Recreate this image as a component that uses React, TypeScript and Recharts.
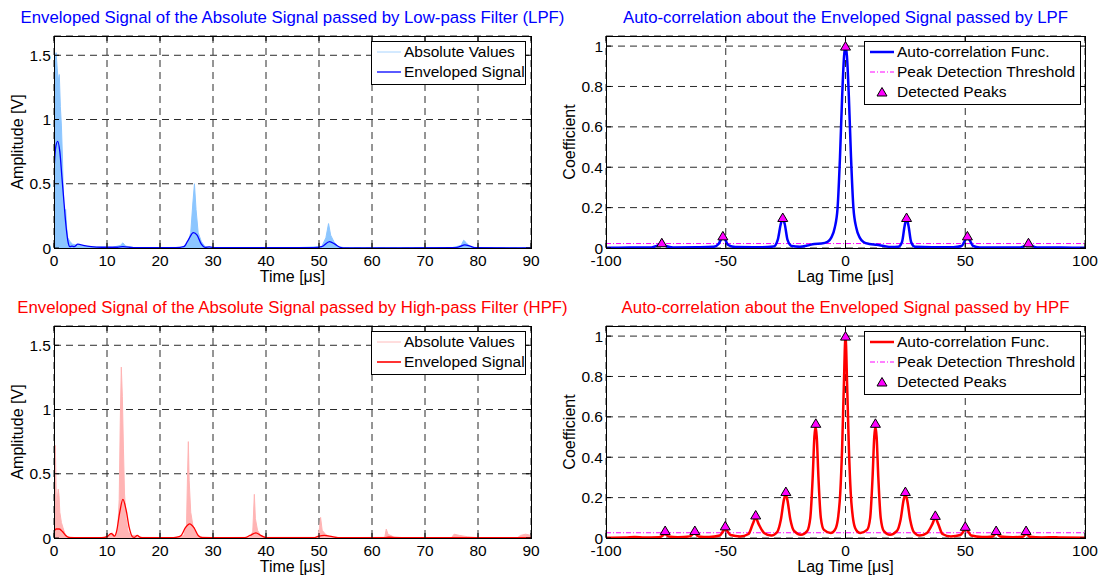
import React from "react";
import {
  ComposedChart,
  Line,
  Area,
  Scatter,
  XAxis,
  YAxis,
  CartesianGrid,
  ReferenceLine,
} from "recharts";

type Pt = [number, number];

const FONT = '"Liberation Sans", Arial, Helvetica, sans-serif';

// time axis / lag axis ticks
const TIME_TICKS = [0, 10, 20, 30, 40, 50, 60, 70, 80, 90];
const AMP_TICKS = [0, 0.5, 1, 1.5];
const LAG_TICKS = [-100, -50, 0, 50, 100];
const COEF_TICKS = [0, 0.2, 0.4, 0.6, 0.8, 1];

// LPF: absolute values (upper hull of the rectified trace) and its envelope
const LPF_ABS: Pt[] = [
  [0, 0.1], [0.2, 1.45], [0.4, 1.52], [0.6, 1.4], [0.8, 1.3], [1.0, 1.35],
  [1.2, 1.1], [1.4, 0.95], [1.6, 0.7], [1.8, 0.35], [2.0, 0.22], [2.2, 0.3],
  [2.4, 0.15], [2.6, 0.08], [3.0, 0.05], [3.5, 0.03], [4.5, 0.02], [6, 0.01],
  [8, 0.008], [11, 0.005], [12.5, 0.02], [13, 0.04], [13.5, 0.015], [15, 0.004],
  [20, 0.003], [24, 0.005], [25.2, 0.03], [25.8, 0.12], [26.2, 0.35], [26.5, 0.5],
  [26.8, 0.3], [27.2, 0.12], [27.8, 0.05], [28.5, 0.01], [30, 0.003], [45, 0.002],
  [50.5, 0.01], [51.3, 0.08], [51.8, 0.19], [52.2, 0.1], [52.8, 0.05], [53.5, 0.01],
  [55, 0.002], [75, 0.002], [76.8, 0.02], [77.3, 0.06], [77.8, 0.04], [78.5, 0.01],
  [80, 0.002], [90, 0.002],
];
const LPF_ENV: Pt[] = [
  [0, 0.6], [0.3, 0.78], [0.7, 0.83], [1.1, 0.75], [1.5, 0.55], [1.8, 0.4],
  [2.2, 0.2], [2.6, 0.06], [3.0, 0.01], [3.4, 0.015], [3.8, 0.01], [4.5, 0.03],
  [5.5, 0.02], [7, 0.01], [9, 0.006], [12, 0.006], [13, 0.01], [15, 0.003],
  [20, 0.002], [23, 0.003], [24.5, 0.01], [25.3, 0.06], [26.3, 0.12], [27, 0.1],
  [27.8, 0.03], [28.5, 0.005], [29.3, 0.008], [30.5, 0.002], [49, 0.002],
  [50.5, 0.01], [52, 0.05], [53, 0.03], [54, 0.005], [55, 0.001], [75.5, 0.002],
  [76.5, 0.01], [77.5, 0.025], [78.5, 0.015], [79.5, 0.002], [90, 0.001],
];

// HPF: absolute values and envelope
const HPF_ABS: Pt[] = [
  [0, 0.05], [0.25, 0.72], [0.35, 0.5], [0.45, 0.25], [0.6, 0.3], [0.8, 0.38],
  [0.95, 0.33], [1.1, 0.2], [1.4, 0.12], [1.7, 0.08], [2.0, 0.04], [2.5, 0.01],
  [4, 0.003], [9.5, 0.003], [10.5, 0.02], [11, 0.04], [11.5, 0.01], [12, 0.05],
  [12.3, 0.3], [12.5, 0.9], [12.7, 1.33], [12.9, 1.1], [13.1, 0.7], [13.3, 0.35],
  [13.6, 0.15], [14, 0.05], [14.5, 0.02], [15.5, 0.02], [16.5, 0.005], [23, 0.003],
  [24.5, 0.02], [25.0, 0.1], [25.2, 0.5], [25.35, 0.75], [25.5, 0.45], [25.8, 0.2],
  [26.2, 0.1], [26.8, 0.04], [27.5, 0.01], [30, 0.003], [37, 0.005], [37.5, 0.05],
  [37.8, 0.34], [38.0, 0.15], [38.4, 0.06], [39, 0.02], [40, 0.005], [49.8, 0.005],
  [50.1, 0.08], [50.3, 0.16], [50.6, 0.06], [51.2, 0.03], [52, 0.01], [54, 0.003],
  [62.4, 0.005], [62.7, 0.07], [63, 0.03], [64, 0.01], [66, 0.002], [75, 0.003],
  [75.5, 0.03], [76.5, 0.02], [78, 0.01], [80, 0.002], [87.5, 0.003], [88, 0.02],
  [89, 0.03], [90, 0.02],
];
const HPF_ENV: Pt[] = [
  [0, 0.05], [0.4, 0.07], [1.0, 0.07], [1.6, 0.05], [2.2, 0.02], [3, 0.003],
  [9, 0.002], [10, 0.01], [10.8, 0.035], [11.4, 0.015], [11.8, 0.05], [12.4, 0.2],
  [13.0, 0.3], [13.6, 0.22], [14.2, 0.08], [14.8, 0.01], [15.2, 0.005], [15.7, 0.02],
  [16.3, 0.005], [17, 0.002], [22, 0.002], [23.2, 0.006], [24, 0.02], [24.8, 0.08],
  [25.6, 0.11], [26.4, 0.08], [27.2, 0.02], [28, 0.003], [36, 0.003], [37, 0.02],
  [38.1, 0.04], [39, 0.02], [40, 0.003], [49, 0.002], [50, 0.015], [51, 0.02],
  [52.5, 0.01], [54, 0.002], [62.5, 0.002], [63.2, 0.006], [64.5, 0.002], [90, 0.002],
];

// auto-correlation functions
const LPF_ACF: Pt[] = [
  [-100, 0.001], [-90, 0.002], [-81, 0.003], [-78.5, 0.012], [-76.8, 0.02],
  [-75, 0.01], [-72, 0.003], [-62, 0.004], [-55, 0.006], [-53, 0.02], [-51.5, 0.048],
  [-50.5, 0.045], [-49, 0.015], [-46, 0.005], [-35, 0.004], [-30, 0.007],
  [-28.3, 0.04], [-27, 0.12], [-26.2, 0.145], [-25.4, 0.12], [-24.2, 0.04],
  [-22.5, 0.01], [-19, 0.006], [-16, 0.012], [-13, 0.02], [-10, 0.022], [-7.5, 0.03],
  [-6, 0.05], [-4.5, 0.1], [-3.3, 0.2], [-2.3, 0.45], [-1.4, 0.75], [-0.6, 0.95],
  [0, 1.0], [0.6, 0.95], [1.4, 0.75], [2.3, 0.45], [3.3, 0.2], [4.5, 0.1], [6, 0.05],
  [7.5, 0.03], [10, 0.02], [13, 0.016], [16, 0.01], [19, 0.005], [22, 0.006],
  [23.6, 0.03], [24.7, 0.11], [25.5, 0.145], [26.3, 0.11], [27.4, 0.03], [29, 0.006],
  [36, 0.004], [45, 0.004], [48.5, 0.01], [50, 0.04], [50.9, 0.05], [51.8, 0.04],
  [53.3, 0.01], [56, 0.003], [65, 0.003], [73, 0.003], [75, 0.01], [76.4, 0.02],
  [78, 0.01], [80, 0.003], [90, 0.002], [100, 0.001],
];
const HPF_ACF: Pt[] = [
  [-100, 0.001], [-92, 0.002], [-88, 0.005], [-84, 0.002], [-78, 0.004],
  [-76.8, 0.008], [-75.4, 0.02], [-74, 0.008], [-70, 0.004], [-65, 0.008],
  [-63, 0.025], [-61.5, 0.008], [-57, 0.005], [-52.5, 0.012], [-51, 0.035],
  [-50.2, 0.045], [-49.4, 0.035], [-48, 0.015], [-44, 0.008], [-40.5, 0.02],
  [-38.7, 0.07], [-37.5, 0.1], [-36.3, 0.07], [-34, 0.025], [-31, 0.012],
  [-28.5, 0.03], [-27, 0.09], [-25.7, 0.19], [-25, 0.215], [-24.3, 0.19], [-23, 0.09],
  [-21.5, 0.035], [-18.6, 0.016], [-16, 0.035], [-14.7, 0.1], [-13.7, 0.3],
  [-13.0, 0.5], [-12.5, 0.55], [-12.0, 0.5], [-11.3, 0.3], [-10.3, 0.1], [-9, 0.04],
  [-6.2, 0.025], [-5.2, 0.03], [-4, 0.05], [-3, 0.11], [-2.2, 0.22], [-1.4, 0.45],
  [-0.7, 0.75], [0, 1.0], [0.7, 0.75], [1.4, 0.45], [2.2, 0.22], [3, 0.11], [4, 0.05],
  [5.2, 0.03], [6.2, 0.025], [9, 0.04], [10.3, 0.1], [11.3, 0.3], [12.0, 0.5],
  [12.5, 0.55], [13.0, 0.5], [13.7, 0.3], [14.7, 0.1], [16, 0.035], [18.6, 0.016],
  [21.5, 0.035], [23, 0.09], [24.3, 0.19], [25, 0.215], [25.7, 0.19], [27, 0.09],
  [28.5, 0.03], [31, 0.012], [34, 0.025], [36.3, 0.07], [37.5, 0.1], [38.7, 0.07],
  [40.5, 0.02], [44, 0.008], [48, 0.015], [49.4, 0.035], [50.2, 0.045], [51, 0.035],
  [52.5, 0.012], [57, 0.005], [61.5, 0.008], [63, 0.025], [64.5, 0.008], [70, 0.004],
  [74, 0.006], [75.4, 0.02], [77, 0.006], [82, 0.003], [88, 0.004], [90, 0.002],
  [100, 0.001],
];

// detected peaks
const LPF_PEAKS: Pt[] = [
  [-76.7, 0.026], [-51.2, 0.06], [-26.2, 0.151], [0, 1.0], [25.5, 0.151],
  [50.9, 0.06], [76.4, 0.026],
];
const HPF_PEAKS: Pt[] = [
  [-75.3, 0.037], [-62.9, 0.037], [-50.2, 0.06], [-37.5, 0.114], [-24.9, 0.23],
  [-12.4, 0.568], [0, 1.0], [12.5, 0.568], [25, 0.23], [37.5, 0.112], [50, 0.058],
  [62.9, 0.037], [75.4, 0.037],
];

const LPF_THRESHOLD = 0.022;
const HPF_THRESHOLD = 0.026;

interface Rect {
  x: number;
  y: number;
  w: number;
  h: number;
}

const Y_W = 60;
const TOP_PAD = 20;
const X_H = 50;
const RIGHT_PAD = 24;
const X_MARGIN = 7;
const Y_MARGIN = 3;
const TICK_LEN = 5;

const textStyle = { fill: "#000", fontSize: 15.5, fontFamily: FONT };

function mergeRows(xKey: string, series: Record<string, Pt[]>) {
  const map = new Map<number, Record<string, number>>();
  Object.entries(series).forEach(([name, pts]) => {
    pts.forEach(([x, y]) => {
      const row = map.get(x) ?? { [xKey]: x };
      row[name] = y;
      map.set(x, row);
    });
  });
  return [...map.values()].sort((a, b) => a[xKey] - b[xKey]);
}

// tick label plus MATLAB-style inward tick marks on both sides of the box
function xTick(plotH: number) {
  return (props: any) => {
    const { x, y, payload } = props;
    const base = y - X_MARGIN;
    return (
      <g>
        <line x1={x} x2={x} y1={base} y2={base - TICK_LEN} stroke="#000" />
        <line x1={x} x2={x} y1={base - plotH} y2={base - plotH + TICK_LEN} stroke="#000" />
        <text x={x} y={y} dy="0.71em" textAnchor="middle" {...textStyle}>
          {payload.value}
        </text>
      </g>
    );
  };
}

function yTick(plotW: number) {
  return (props: any) => {
    const { x, y, payload } = props;
    const base = x + Y_MARGIN;
    return (
      <g>
        <line x1={base} x2={base + TICK_LEN} y1={y} y2={y} stroke="#000" />
        <line x1={base + plotW} x2={base + plotW - TICK_LEN} y1={y} y2={y} stroke="#000" />
        <text x={x} y={y} dy="0.355em" textAnchor="end" {...textStyle}>
          {payload.value}
        </text>
      </g>
    );
  };
}

function Triangle(props: any) {
  const { cx, cy } = props;
  if (cx == null || cy == null) return null;
  return (
    <path
      d={`M${cx},${cy - 4.5}L${cx - 5},${cy + 4}L${cx + 5},${cy + 4}Z`}
      fill="#ff00ff"
      stroke="#000"
      strokeWidth={1}
    />
  );
}

interface LegendRow {
  kind: "line" | "tri";
  color: string;
  width?: number;
  dash?: string;
  label: string;
}

function LegendBox({ left, top, width, rows }: { left: number; top: number; width: number; rows: LegendRow[] }) {
  return (
    <div
      style={{
        position: "absolute",
        left,
        top,
        width,
        boxSizing: "border-box",
        border: "1px solid #000",
        background: "#fff",
        padding: "0px 4px 2px 5px",
        fontFamily: FONT,
        fontSize: 15.5,
        color: "#000",
      }}
    >
      {rows.map((r) => (
        <div key={r.label} style={{ height: 20, lineHeight: "20px", display: "flex", alignItems: "center", whiteSpace: "nowrap" }}>
          <svg width={24} height={20} style={{ flex: "none" }}>
            {r.kind === "line" ? (
              <line x1={0} x2={24} y1={10} y2={10} stroke={r.color} strokeWidth={r.width ?? 1} strokeDasharray={r.dash} />
            ) : (
              <Triangle cx={12} cy={10} />
            )}
          </svg>
          <span style={{ marginLeft: 3 }}>{r.label}</span>
        </div>
      ))}
    </div>
  );
}

function Titles({ rect, title, color, xLabel, yLabel, yLabelX }: { rect: Rect; title: string; color: string; xLabel: string; yLabel: string; yLabelX: number }) {
  const cx = rect.x + rect.w / 2;
  const cy = rect.y + rect.h / 2;
  return (
    <>
      <div style={{ position: "absolute", left: cx - 400, width: 800, top: rect.y - 28, height: 20, lineHeight: "20px", textAlign: "center", color, fontFamily: FONT, fontSize: 16.8, whiteSpace: "nowrap" }}>
        {title}
      </div>
      <div style={{ position: "absolute", left: cx - 100, width: 200, top: rect.y + rect.h + 20, height: 18, lineHeight: "18px", textAlign: "center", color: "#000", fontFamily: FONT, fontSize: 16, whiteSpace: "nowrap" }}>
        {xLabel}
      </div>
      <div style={{ position: "absolute", left: yLabelX - 100, width: 200, top: cy - 10, height: 20, lineHeight: "20px", textAlign: "center", color: "#000", fontFamily: FONT, fontSize: 16, whiteSpace: "nowrap", transform: "rotate(-90deg)" }}>
        {yLabel}
      </div>
      <div style={{ position: "absolute", left: rect.x, top: rect.y, width: rect.w + 1, height: rect.h + 1, boxSizing: "border-box", border: "1px solid #000" }} />
    </>
  );
}

function SignalPanel({ rect, abs, env, absColor, envColor, envWidth }: { rect: Rect; abs: Pt[]; env: Pt[]; absColor: string; envColor: string; envWidth: number }) {
  const rows = mergeRows("t", { abs, env });
  return (
    <div style={{ position: "absolute", left: rect.x - Y_W, top: rect.y - TOP_PAD }}>
      <ComposedChart
        width={rect.w + Y_W + RIGHT_PAD}
        height={rect.h + TOP_PAD + X_H}
        data={rows}
        margin={{ top: TOP_PAD, right: RIGHT_PAD, bottom: 0, left: 0 }}
      >
        <CartesianGrid stroke="#2b2b2b" strokeDasharray="7 5" />
        <XAxis type="number" dataKey="t" domain={[0, 90]} ticks={TIME_TICKS} interval={0} allowDataOverflow height={X_H} tickSize={0} tickMargin={X_MARGIN} axisLine={false} tick={xTick(rect.h)} />
        <YAxis type="number" domain={[0, 1.65]} ticks={AMP_TICKS} interval={0} allowDataOverflow width={Y_W} tickSize={0} tickMargin={Y_MARGIN} axisLine={false} tick={yTick(rect.w)} />
        <Area dataKey="abs" type="linear" stroke={absColor} strokeWidth={1} fill={absColor} fillOpacity={1} connectNulls dot={false} activeDot={false} isAnimationActive={false} />
        <Line dataKey="env" type="monotone" stroke={envColor} strokeWidth={envWidth} connectNulls dot={false} activeDot={false} isAnimationActive={false} />
      </ComposedChart>
    </div>
  );
}

function AcfPanel({ rect, acf, peaks, threshold, color }: { rect: Rect; acf: Pt[]; peaks: Pt[]; threshold: number; color: string }) {
  const rows = acf.map(([lag, c]) => ({ lag, c }));
  const peakRows = peaks.map(([lag, c]) => ({ lag, c }));
  return (
    <div style={{ position: "absolute", left: rect.x - Y_W, top: rect.y - TOP_PAD }}>
      <ComposedChart
        width={rect.w + Y_W + RIGHT_PAD}
        height={rect.h + TOP_PAD + X_H}
        data={rows}
        margin={{ top: TOP_PAD, right: RIGHT_PAD, bottom: 0, left: 0 }}
      >
        <CartesianGrid stroke="#2b2b2b" strokeDasharray="7 5" />
        <XAxis type="number" dataKey="lag" domain={[-100, 100]} ticks={LAG_TICKS} interval={0} allowDataOverflow height={X_H} tickSize={0} tickMargin={X_MARGIN} axisLine={false} tick={xTick(rect.h)} />
        <YAxis type="number" domain={[0, 1.05]} ticks={COEF_TICKS} interval={0} allowDataOverflow width={Y_W} tickSize={0} tickMargin={Y_MARGIN} axisLine={false} tick={yTick(rect.w)} />
        <ReferenceLine y={threshold} stroke="#ff00ff" strokeWidth={1} strokeDasharray="5 2 1 2" />
        <Line dataKey="c" type="monotone" stroke={color} strokeWidth={2.5} dot={false} activeDot={false} isAnimationActive={false} />
        <Scatter data={peakRows} dataKey="c" shape={<Triangle />} isAnimationActive={false} />
      </ComposedChart>
    </div>
  );
}

const TL: Rect = { x: 54, y: 36, w: 477, h: 212 };
const TR: Rect = { x: 606, y: 36, w: 479, h: 212 };
const BL: Rect = { x: 54, y: 326, w: 477, h: 212 };
const BR: Rect = { x: 606, y: 326, w: 479, h: 212 };

export default function App() {
  return (
    <div style={{ position: "absolute", left: 0, top: 0, width: 1104, height: 577, background: "#fff", overflow: "hidden" }}>
      <SignalPanel rect={TL} abs={LPF_ABS} env={LPF_ENV} absColor="#8cc6ff" envColor="#0000ff" envWidth={1.3} />
      <Titles rect={TL} title="Enveloped Signal of the Absolute Signal passed by Low-pass Filter (LPF)" color="#0000ff" xLabel="Time [μs]" yLabel="Amplitude [V]" yLabelX={18} />
      <LegendBox
        left={371}
        top={41}
        width={155}
        rows={[
          { kind: "line", color: "#a8d4ff", label: "Absolute Values" },
          { kind: "line", color: "#0000ff", width: 1.3, label: "Enveloped Signal" },
        ]}
      />

      <AcfPanel rect={TR} acf={LPF_ACF} peaks={LPF_PEAKS} threshold={LPF_THRESHOLD} color="#0000ff" />
      <Titles rect={TR} title="Auto-correlation about the Enveloped Signal passed by LPF" color="#0000ff" xLabel="Lag Time [μs]" yLabel="Coefficient" yLabelX={570} />
      <LegendBox
        left={864}
        top={41}
        width={217}
        rows={[
          { kind: "line", color: "#0000ff", width: 2.5, label: "Auto-correlation Func." },
          { kind: "line", color: "#ff00ff", width: 1, dash: "5 2 1 2", label: "Peak Detection Threshold" },
          { kind: "tri", color: "#ff00ff", label: "Detected Peaks" },
        ]}
      />

      <SignalPanel rect={BL} abs={HPF_ABS} env={HPF_ENV} absColor="#ffb4b4" envColor="#ff0000" envWidth={1.3} />
      <Titles rect={BL} title="Enveloped Signal of the Absolute Signal passed by High-pass Filter (HPF)" color="#ff0000" xLabel="Time [μs]" yLabel="Amplitude [V]" yLabelX={18} />
      <LegendBox
        left={371}
        top={331}
        width={155}
        rows={[
          { kind: "line", color: "#ffbcbc", label: "Absolute Values" },
          { kind: "line", color: "#ff0000", width: 1.6, label: "Enveloped Signal" },
        ]}
      />

      <AcfPanel rect={BR} acf={HPF_ACF} peaks={HPF_PEAKS} threshold={HPF_THRESHOLD} color="#ff0000" />
      <Titles rect={BR} title="Auto-correlation about the Enveloped Signal passed by HPF" color="#ff0000" xLabel="Lag Time [μs]" yLabel="Coefficient" yLabelX={570} />
      <LegendBox
        left={864}
        top={331}
        width={217}
        rows={[
          { kind: "line", color: "#ff0000", width: 2.5, label: "Auto-correlation Func." },
          { kind: "line", color: "#ff00ff", width: 1, dash: "5 2 1 2", label: "Peak Detection Threshold" },
          { kind: "tri", color: "#ff00ff", label: "Detected Peaks" },
        ]}
      />
    </div>
  );
}
